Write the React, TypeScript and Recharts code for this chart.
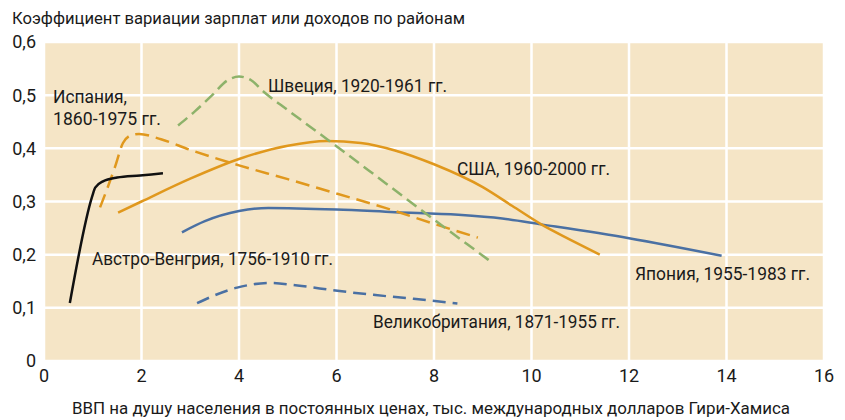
import React from "react"
import { LineChart, Line, XAxis, YAxis, CartesianGrid } from "recharts"

// axis ticks
const X_TICKS = [0, 2, 4, 6, 8, 10, 12, 14, 16]
const Y_TICKS = [0, 0.1, 0.2, 0.3, 0.4, 0.5, 0.6]

// series: GDP per capita (x) vs coefficient of variation (y)
const austriaX = [0.53, 0.99, 1.05, 1.21, 1.5, 1.97, 2.44]
const austriaY = [0.109, 0.31, 0.326, 0.338, 0.345, 0.349, 0.353]

const spainX = [1.15, 1.3, 1.46, 1.62, 1.8, 1.95, 2.4, 3, 4, 5, 6, 7, 8, 8.9]
const spainY = [0.289, 0.325, 0.366, 0.41, 0.425, 0.427, 0.417, 0.397, 0.368, 0.342, 0.315, 0.288, 0.258, 0.232]

const swedenX = [2.75, 3.1, 3.45, 3.75, 4.0, 4.25, 4.5, 5, 6, 7, 8, 9.12]
const swedenY = [0.443, 0.47, 0.5, 0.527, 0.535, 0.528, 0.507, 0.472, 0.404, 0.335, 0.266, 0.19]

const usaX = [1.52, 2, 3, 4, 5, 5.8, 6.5, 7.2, 8, 9, 9.6, 10.2, 10.8, 11.4]
const usaY = [0.279, 0.3, 0.343, 0.38, 0.405, 0.414, 0.41, 0.396, 0.37, 0.327, 0.292, 0.257, 0.228, 0.2]

const japanX = [2.83, 3.3, 4.0, 4.6, 6, 7.2, 8.5, 9.4, 10.2, 12, 13.9]
const japanY = [0.242, 0.263, 0.282, 0.288, 0.285, 0.28, 0.275, 0.268, 0.257, 0.231, 0.198]

const ukX = [3.14, 3.96, 4.64, 5.2, 6.02, 6.8, 7.58, 8.48]
const ukY = [0.109, 0.138, 0.147, 0.142, 0.132, 0.124, 0.117, 0.108]

const pts = (xs: number[], ys: number[]) => xs.map((x, i) => ({ x, y: ys[i] }))

const FONT = "'Liberation Sans Narrow', Roboto, 'DejaVu Sans Condensed', sans-serif"
const ORANGE = "#e0981d"
const GREEN = "#8db26a"
const BLUE = "#4a70a3"
const TEXT = "#1a1a1a"

const fmt = (v: number) => (v === 0 ? "0" : String(v).replace(".", ","))

type Lbl = { text: string; x: number; y: number; w: number; size: number }

const labels: Lbl[] = [
  { text: "Коэффициент вариации зарплат или доходов по районам", x: 12, y: 24, w: 453, size: 17 },
  { text: "Испания,", x: 53, y: 103, w: 74, size: 18 },
  { text: "1860-1975 гг.", x: 53, y: 125, w: 108, size: 18 },
  { text: "Швеция, 1920-1961 гг.", x: 268, y: 92, w: 179, size: 18 },
  { text: "США, 1960-2000 гг.", x: 457, y: 175, w: 153, size: 18 },
  { text: "Австро-Венгрия, 1756-1910 гг.", x: 92, y: 265, w: 241, size: 18 },
  { text: "Япония, 1955-1983 гг.", x: 635, y: 280, w: 175, size: 18 },
  { text: "Великобритания, 1871-1955 гг.", x: 373, y: 328, w: 247, size: 18 },
  {
    text: "ВВП на душу населения в постоянных ценах, тыс. международных долларов Гири-Хамиса",
    x: 72,
    y: 414,
    w: 718,
    size: 17,
  },
]

export default function App() {
  return (
    <div style={{ position: "absolute", left: 0, top: 0, width: 845, height: 420, background: "#fff" }}>
      <LineChart width={845} height={420} margin={{ top: 42, right: 21, bottom: 29, left: 0 }}>
        <CartesianGrid fill="#f5e5c6" fillOpacity={1} stroke="#ffffff" strokeWidth={2.5} />
        <XAxis
          dataKey="x"
          type="number"
          domain={[0, 16]}
          ticks={X_TICKS}
          height={30}
          tickLine={false}
          axisLine={false}
          tick={{ fontSize: 18, fill: TEXT, fontFamily: FONT }}
        />
        <YAxis
          type="number"
          domain={[0, 0.6]}
          ticks={Y_TICKS}
          width={44}
          tickLine={false}
          axisLine={false}
          tickFormatter={fmt}
          tick={{ fontSize: 18, fill: TEXT, fontFamily: FONT }}
        />
        <Line data={pts(ukX, ukY)} dataKey="y" type="monotone" stroke={BLUE} strokeWidth={2.5} strokeDasharray="13 7" dot={false} isAnimationActive={false} />
        <Line data={pts(japanX, japanY)} dataKey="y" type="monotone" stroke={BLUE} strokeWidth={2.5} dot={false} isAnimationActive={false} />
        <Line data={pts(usaX, usaY)} dataKey="y" type="monotone" stroke={ORANGE} strokeWidth={2.5} dot={false} isAnimationActive={false} />
        <Line data={pts(spainX, spainY)} dataKey="y" type="monotone" stroke={ORANGE} strokeWidth={2.5} strokeDasharray="14 7" dot={false} isAnimationActive={false} />
        <Line data={pts(swedenX, swedenY)} dataKey="y" type="monotone" stroke={GREEN} strokeWidth={2.5} strokeDasharray="12 6" dot={false} isAnimationActive={false} />
        <Line data={pts(austriaX, austriaY)} dataKey="y" type="monotone" stroke="#111" strokeWidth={2.5} dot={false} isAnimationActive={false} />
      </LineChart>
      <svg width={845} height={420} style={{ position: "absolute", left: 0, top: 0, pointerEvents: "none" }}>
        {labels.map((l) => (
          <text
            key={l.text}
            x={l.x}
            y={l.y}
            fontSize={l.size}
            fontFamily={FONT}
            fill={TEXT}
            textLength={l.w}
            lengthAdjust="spacingAndGlyphs"
          >
            {l.text}
          </text>
        ))}
      </svg>
    </div>
  )
}
